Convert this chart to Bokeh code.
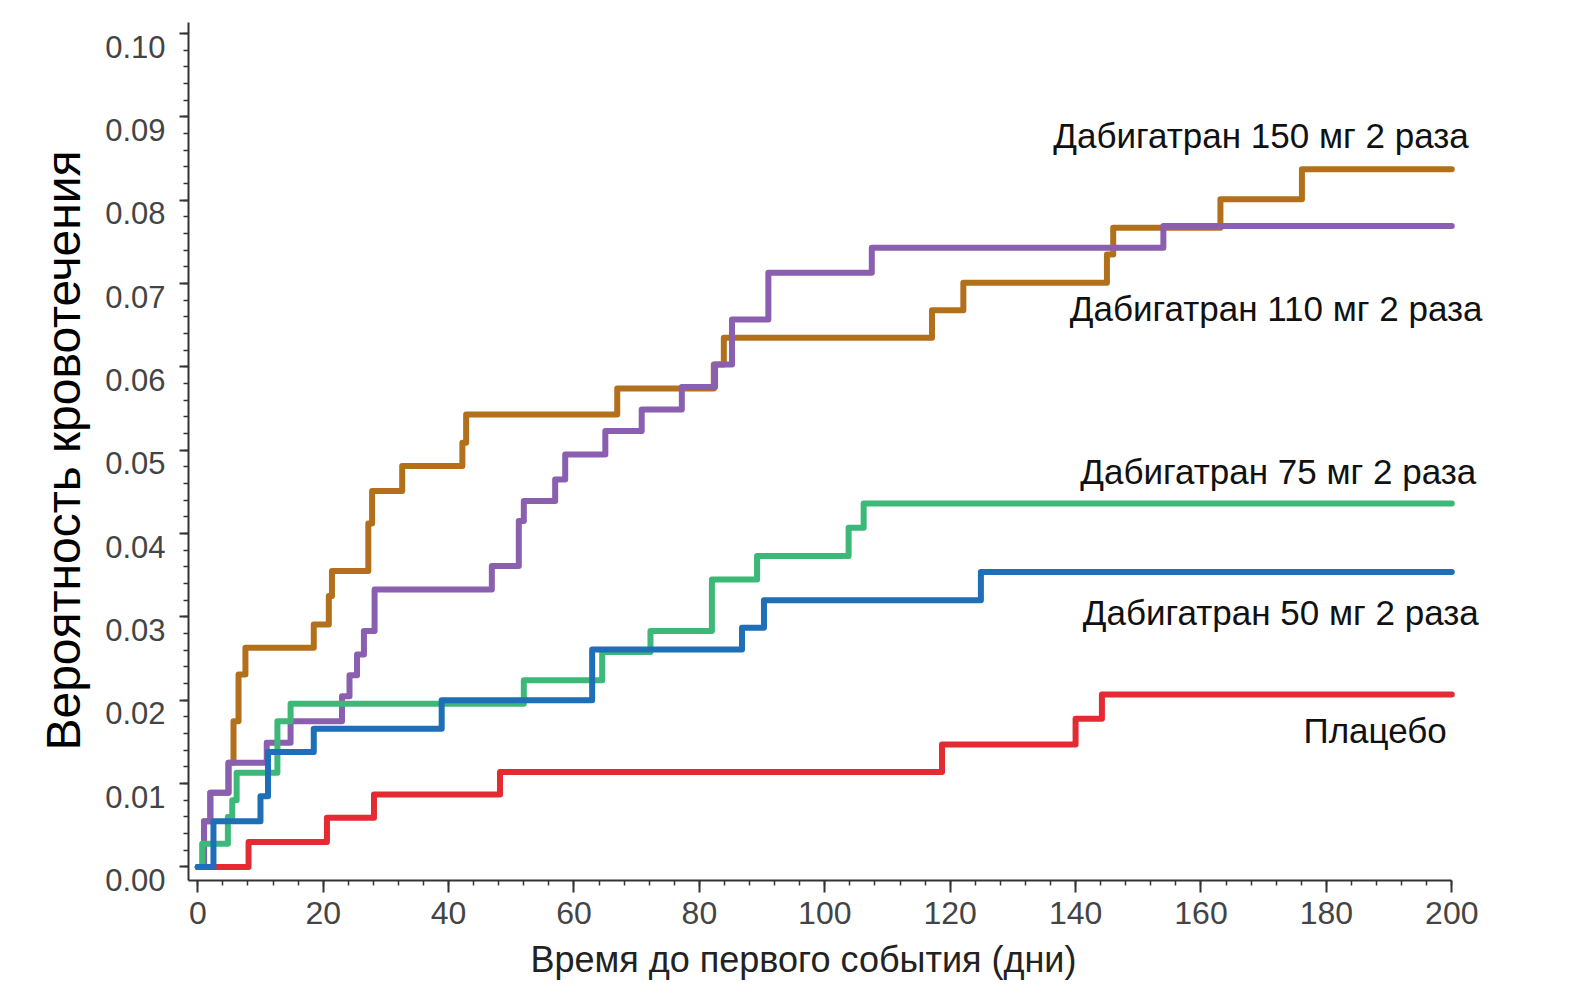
from bokeh.plotting import figure
from bokeh.models import Range1d, FixedTicker, LinearAxis, Title, CustomJSTickFormatter
from bokeh.embed import file_html
from bokeh.resources import INLINE
from bokeh.core.properties import value

# ---------------- data ----------------
days_150 = [0, 1.0, 2.0, 4.9, 5.7, 6.5, 7.6, 18.5, 20.9, 21.4, 27.2, 27.8, 32.6,
            42.2, 42.8, 66.9, 82.3, 83.9, 117.1, 122.1, 145.0, 146.0, 163.1, 176.1, 200]
prob_150 = [0, 0.0055, 0.0089, 0.0125, 0.0175, 0.0231, 0.0263, 0.0291, 0.0325, 0.0355,
            0.0412, 0.0451, 0.0481, 0.0509, 0.0543, 0.0574, 0.0603, 0.0635, 0.0668,
            0.0701, 0.0735, 0.0767, 0.0801, 0.0837, 0.0837]

days_110 = [0, 1.0, 2.0, 4.9, 11.0, 14.8, 23.0, 24.2, 25.4, 26.5, 28.2, 46.9, 51.2,
            52.0, 57.0, 58.6, 65.0, 70.8, 77.2, 82.5, 85.2, 91.0, 107.5, 154.0, 200]
prob_110 = [0, 0.0055, 0.0089, 0.0125, 0.0149, 0.0175, 0.0205, 0.0230, 0.0255, 0.0283,
            0.0333, 0.0361, 0.0415, 0.0439, 0.0465, 0.0495, 0.0523, 0.0549, 0.0576,
            0.0603, 0.0657, 0.0713, 0.0743, 0.0769, 0.0769]

days_75 = [0, 0.7, 4.8, 5.5, 6.2, 12.7, 14.8, 52.0, 64.5, 72.2, 82.0, 89.2, 103.8, 106.2, 200]
prob_75 = [0, 0.0028, 0.0060, 0.0080, 0.0113, 0.0175, 0.0196, 0.0224, 0.0258, 0.0283,
           0.0345, 0.0373, 0.0407, 0.0436, 0.0436]

days_50 = [0, 2.5, 10.0, 11.2, 18.5, 38.9, 62.9, 86.8, 90.3, 124.9, 200]
prob_50 = [0, 0.0055, 0.0085, 0.0138, 0.0166, 0.0200, 0.0261, 0.0287, 0.0320, 0.0354, 0.0354]

days_pl = [0, 8.1, 20.6, 28.1, 48.2, 118.7, 140.0, 144.2, 200]
prob_pl = [0, 0.0030, 0.0059, 0.0087, 0.0114, 0.0147, 0.0178, 0.0207, 0.0207]

series_names = ["Дабигатран 150 мг 2 раза", "Дабигатран 110 мг 2 раза",
                "Дабигатран 75 мг 2 раза", "Дабигатран 50 мг 2 раза", "Плацебо"]

x_ticks = [0, 20, 40, 60, 80, 100, 120, 140, 160, 180, 200]
x_tick_labels = ["0", "20", "40", "60", "80", "100", "120", "140", "160", "180", "200"]
x_minor_ticks = list(range(0, 201, 4))
y_ticks = [0.0, 0.01, 0.02, 0.03, 0.04, 0.05, 0.06, 0.07, 0.08, 0.09, 0.1]
y_tick_labels = ["0.00", "0.01", "0.02", "0.03", "0.04", "0.05", "0.06", "0.07", "0.08", "0.09", "0.10"]
y_minor_ticks = [round(i * 0.002, 3) for i in range(51)]

x_title = "Время до первого события (дни)"
y_title = "Вероятность кровотечения"

# ---------------- layout / style ----------------
colors = ["#B3701B", "#8B5FB0", "#3CB878", "#1E6EB8", "#E42B33"]
label_x = [202.7, 204.9, 203.9, 204.3, 199.2]
label_y = [0.0878, 0.0670, 0.0475, 0.0305, 0.0164]
y_label_drop = 0.00156   # tick labels sit slightly below their ticks in the original
FONT = "Liberation Sans"

p = figure(width=1556, height=1000, output_backend="svg", toolbar_location=None,
           x_range=Range1d(-1.48, 207.77), y_range=Range1d(-0.00162, 0.10156),
           min_border_left=188, min_border_right=56, min_border_top=20, min_border_bottom=120)
p.xgrid.visible = False
p.ygrid.visible = False
p.outline_line_color = None
p.background_fill_color = "white"
p.border_fill_color = "white"

series = [(days_150, prob_150), (days_110, prob_110), (days_pl, prob_pl),
          (days_75, prob_75), (days_50, prob_50)]
order_colors = [colors[0], colors[1], colors[4], colors[2], colors[3]]
for (d, v), c in zip(series, order_colors):
    p.step(d, v, mode="after", line_color=c, line_width=6, line_join="round", line_cap="round")

p.text(x=label_x, y=label_y, text=series_names, text_align="right", text_baseline="middle",
       text_font=value(FONT), text_font_size="35px", text_color="#111111")

# axes
for ax in (p.xaxis[0], p.yaxis[0]):
    ax.axis_line_color = "#333333"
    ax.axis_line_width = 2
    ax.major_tick_line_color = "#333333"
    ax.major_tick_line_width = 2
    ax.minor_tick_line_color = "#333333"
    ax.minor_tick_line_width = 1.5
    ax.major_tick_in = 0
    ax.minor_tick_in = 0
    ax.minor_tick_out = 5
    ax.major_label_text_font = FONT
    ax.major_label_text_color = "#444444"

xa = p.xaxis[0]
xa.bounds = (-1.48, 200)
xa.ticker = FixedTicker(ticks=x_ticks, minor_ticks=x_minor_ticks)
xa.major_label_overrides = {t: l for t, l in zip(x_ticks, x_tick_labels)}
xa.major_tick_out = 12
xa.major_label_text_font_size = "32px"
xa.major_label_standoff = 9

# x title, placed like the original (left part of the axis span)
p.add_layout(Title(text=x_title, align="left", offset=342, standoff=20,
                   text_font=FONT, text_font_size="36px", text_font_style="normal",
                   text_color="#222222"), "below")

# inner y axis: line and ticks only (no label text)
ya = p.yaxis[0]
ya.bounds = (-0.00162, 0.1013)
ya.ticker = FixedTicker(ticks=y_ticks, minor_ticks=y_minor_ticks)
ya.major_tick_out = 9
ya.formatter = CustomJSTickFormatter(code="return '';")
ya.major_label_standoff = 0

# outer y axis: the tick labels (drawn a little below their ticks) and the title
shifted = [t - y_label_drop for t in y_ticks]
ya2 = LinearAxis(ticker=FixedTicker(ticks=shifted, minor_ticks=[]),
                 formatter=CustomJSTickFormatter(args=dict(tpos=shifted, lbls=y_tick_labels), code="""
let best = 0, bd = Infinity;
for (let i = 0; i < tpos.length; i++) { const d = Math.abs(tpos[i] - tick); if (d < bd) { bd = d; best = i; } }
return lbls[best];
"""))
ya2.axis_line_color = None
ya2.major_tick_line_color = None
ya2.minor_tick_line_color = None
ya2.major_tick_out = 0
ya2.major_tick_in = 0
ya2.minor_tick_out = 0
ya2.minor_tick_in = 0
ya2.major_label_standoff = 14
ya2.major_label_text_font = FONT
ya2.major_label_text_font_size = "31px"
ya2.major_label_text_color = "#444444"
ya2.axis_label = y_title
ya2.axis_label_text_font = FONT
ya2.axis_label_text_font_style = "normal"
ya2.axis_label_text_font_size = "48px"
ya2.axis_label_text_color = "#000000"
ya2.axis_label_standoff = 12
p.add_layout(ya2, "left")

open("out.html", "w").write(file_html(p, INLINE))
